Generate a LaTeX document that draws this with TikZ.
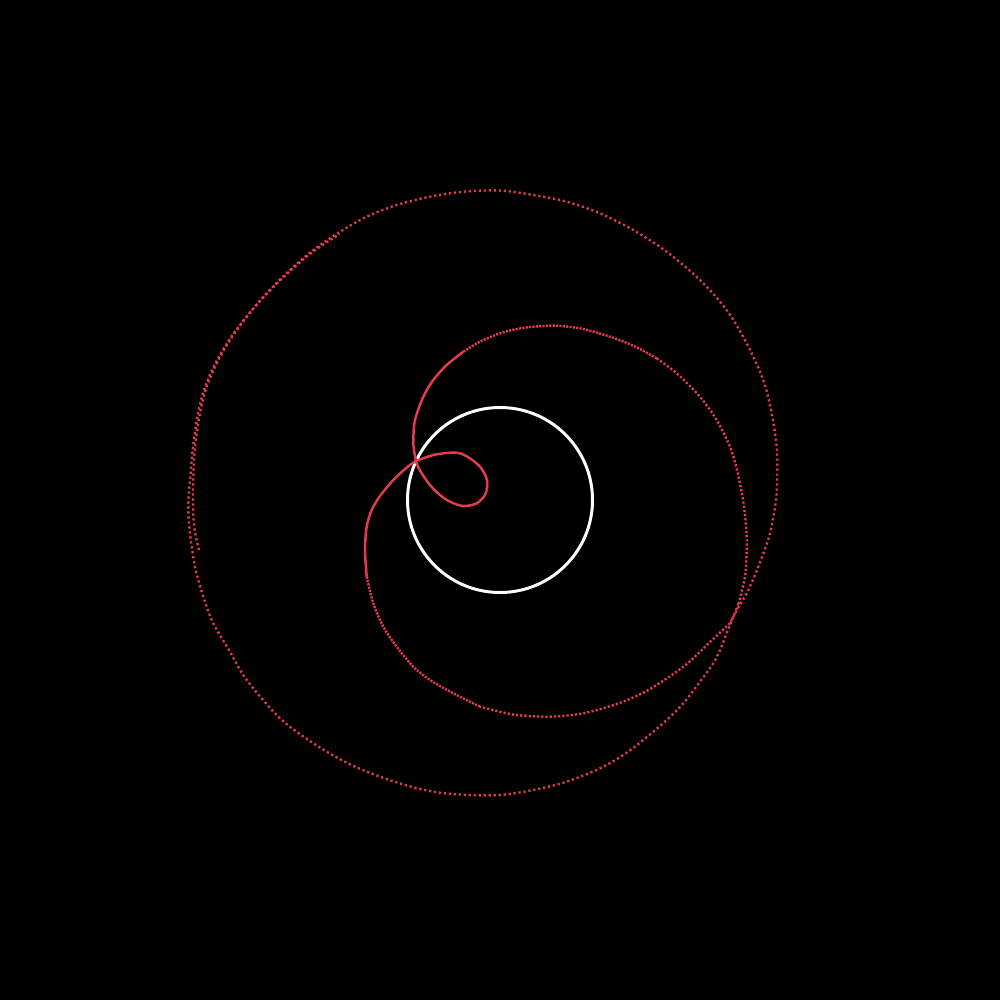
\documentclass[tikz,border=0pt]{standalone}
\definecolor{trailred}{RGB}{228,60,78}
\begin{document}
\begin{tikzpicture}[x=0.01cm,y=-0.01cm,
  trail/.style={draw=trailred, line width=0.68pt, line cap=butt},
  dotsfar/.style={trail, dash pattern=on 0.62pt off 0.8pt},
  dotsmid/.style={trail, dash pattern=on 0.62pt off 0.58pt},
  dotsnear/.style={trail, dash pattern=on 0.62pt off 0.34pt},
  solidtrail/.style={draw=trailred, line width=0.7pt, line join=round},
  planet/.style={draw=white, line width=0.85pt}]
\fill[black] (0,0) rectangle (1000,1000);
\useasboundingbox (0,0) rectangle (1000,1000);
% planet
\draw[planet] (500,500) circle[radius=92.5];
% incoming arm (outer)
\draw[dotsfar] plot[smooth] coordinates {(199,550) (195.5,535) (193.5,520) (193,505) (193,488) (193.5,473) (195,447) (200,413) (206.7,386.7) (216.7,363.3) (230,340) (246.7,316.7) (266.7,293.3) (290,270) (313.3,250) (340,231.7) (366.7,216.7) (396.7,205) (430,196.7) (463.3,191.7) (500,190.5) (533.3,195) (566.7,201.7) (600,213.3) (633.3,230) (666.7,251.7) (700,280) (726.7,310) (746.7,343.3) (763.3,380) (771.7,413.3) (776.7,446.7) (777.3,473.3) (776,500) (770,533.3) (758.3,566.7) (746.7,593.3) (738,608) (730,623.3)};
\draw[dotsmid] plot[smooth] coordinates {(730,623.3) (710,642) (688,663) (666.7,678.5) (643.3,692.7) (616.7,704) (583.3,713.3) (550,716.7) (516.7,715) (500,711.7) (480,706.7)};
\draw[dotsnear] plot[smooth] coordinates {(480,706.7) (453.3,693.3) (430,680) (413.3,666.7) (396.7,646.7) (383.3,626.7) (373.3,603.3) (366.7,576.7)};
% inner part with loop
\draw[solidtrail] plot[smooth] coordinates {(366.7,576.7) (365,550) (366.7,526.7) (371.7,510) (380,496) (393.3,480) (404,470) (415,461.7) (433.3,455) (450,452.7) (460,453.3) (470,458.3) (480,466.7) (486,476.7) (487.3,485) (485,495) (476.7,503.3) (463.3,506) (450,501.7) (440,495) (430,485) (421.7,473.3) (416.7,463.3) (414,450) (413.3,440) (415,420) (423.3,396.7) (433.3,380) (446.7,365) (463.3,351.7)};
% outgoing arm
\draw[dotsnear] plot[smooth] coordinates {(463.3,351.7) (480,341.7) (500,333.3) (516.7,329) (533.3,326.7) (556.7,325.7) (583.3,329) (610,336.7) (633.3,345.7) (656.7,358.3)};
\draw[dotsmid] plot[smooth] coordinates {(656.7,358.3) (676.7,373.3) (700,396.7) (716.7,420) (730,446.7) (737,470) (742.5,496.7) (745.5,520) (746.8,540) (746.5,555) (745,576.7) (738.7,603.3)};
\draw[dotsfar] plot[smooth] coordinates {(738.7,603.3) (726.7,633.3) (720,650) (713.3,663.3) (700,681.7) (683.3,703.3) (666.7,720) (643.3,740) (623.3,755) (600,768.3) (566.7,781.7) (533.3,790) (500,795) (470,795) (440,792.7) (413.3,787.3) (380,776.7) (346.7,762.7) (313.3,743.3) (280,718.3) (246.7,680) (230,651.7) (213.3,623.3) (203.3,596.7) (195,566.7) (190,533.3) (188.3,505) (190.5,475) (193,447) (198,413) (205,387) (215,364) (228.5,341) (245.5,318) (265.5,295) (289,272) (312.5,252) (339.5,234)};
\end{tikzpicture}
\end{document}
